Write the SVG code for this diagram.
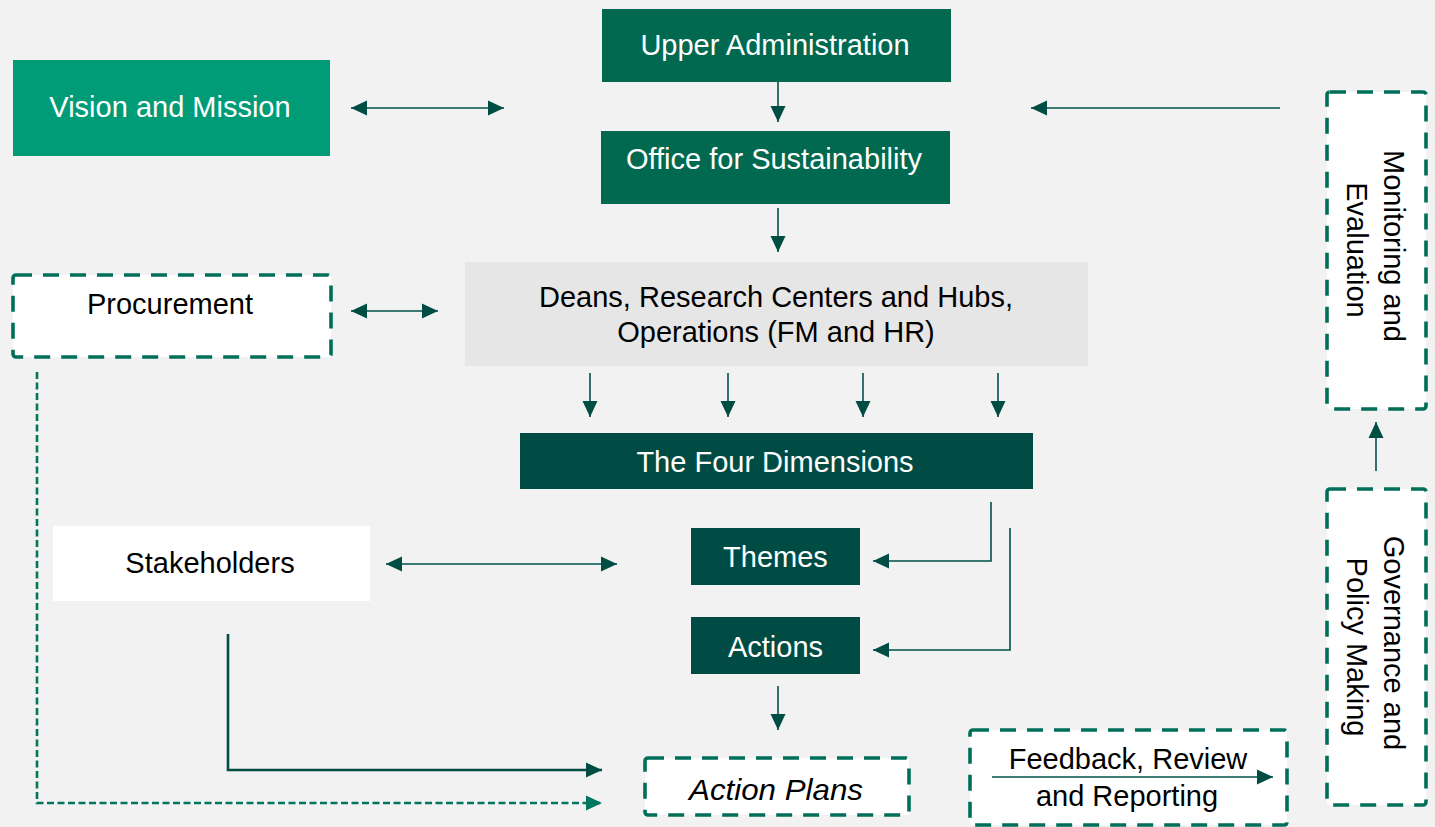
<svg xmlns="http://www.w3.org/2000/svg" width="1435" height="827" viewBox="0 0 1435 827">
  <style>
    .t { font-family: "Liberation Sans", Arial, sans-serif; font-size: 29px; text-anchor: middle; }
    .w { fill: #ffffff; }
    .k { fill: #000000; }
    .solid { fill: none; stroke: #00504a; stroke-width: 1.6; }
    .thick { fill: none; stroke: #004d44; stroke-width: 2.6; }
    .dashed-line { fill: none; stroke: #00765f; stroke-width: 2.6; stroke-dasharray: 7 3.5; }
    .dash-box { fill: #ffffff; stroke: #006f59; stroke-width: 3.6; stroke-dasharray: 16 11; }
    .mid { fill: #00694f; }
    .light { fill: #009c77; }
    .dark { fill: #004c45; }
    .grey { fill: #e6e6e6; }
  </style>
  <defs>
    <marker id="head" viewBox="0 0 16 16" refX="16" refY="8" markerWidth="16" markerHeight="16" markerUnits="userSpaceOnUse" orient="auto-start-reverse">
      <path d="M0,0.5 L16,8 L0,15.5 Z" fill="#004d44"/>
    </marker>
    <marker id="head-dash" viewBox="0 0 16 16" refX="16" refY="8" markerWidth="16" markerHeight="16" markerUnits="userSpaceOnUse" orient="auto">
      <path d="M0,0.5 L16,8 L0,15.5 Z" fill="#00765f"/>
    </marker>
  </defs>

  <rect width="1435" height="827" fill="#f2f2f2"/>

  <g id="upper-administration">
    <rect class="mid" x="602" y="9" width="349" height="73"/>
    <text class="t w" x="775" y="55">Upper Administration</text>
  </g>

  <g id="office-for-sustainability">
    <rect class="mid" x="601" y="131" width="349" height="73"/>
    <text class="t w" x="774" y="169">Office for Sustainability</text>
  </g>

  <g id="vision-and-mission">
    <rect class="light" x="13" y="60" width="317" height="96"/>
    <text class="t w" x="170" y="117">Vision and Mission</text>
  </g>

  <g id="procurement">
    <rect class="dash-box" x="13" y="275" width="318" height="82" rx="3"/>
    <text class="t k" x="170" y="314">Procurement</text>
  </g>

  <g id="deans">
    <rect class="grey" x="465" y="262" width="623" height="104"/>
    <text class="t k" x="776" y="307">Deans, Research Centers and Hubs,</text>
    <text class="t k" x="776" y="342">Operations (FM and HR)</text>
  </g>

  <g id="four-dimensions">
    <rect class="dark" x="520" y="433" width="513" height="56"/>
    <text class="t w" x="775" y="472">The Four Dimensions</text>
  </g>

  <g id="themes">
    <rect class="dark" x="691" y="528" width="169" height="57"/>
    <text class="t w" x="775.5" y="567">Themes</text>
  </g>

  <g id="actions">
    <rect class="dark" x="691" y="617" width="169" height="57"/>
    <text class="t w" x="775.5" y="657">Actions</text>
  </g>

  <g id="stakeholders">
    <rect fill="#ffffff" x="53" y="526" width="317" height="75"/>
    <text class="t k" x="210" y="573">Stakeholders</text>
  </g>

  <g id="action-plans">
    <rect class="dash-box" x="645" y="758" width="264" height="57" rx="3"/>
    <text class="t k" x="776" y="800" font-style="italic" textLength="174" lengthAdjust="spacingAndGlyphs">Action Plans</text>
  </g>

  <g id="feedback-review-reporting">
    <rect class="dash-box" x="970" y="730" width="317" height="95" rx="3"/>
    <text class="t k" x="1128" y="769">Feedback, Review</text>
    <text class="t k" x="1127" y="806">and Reporting</text>
    <line class="solid" x1="992" y1="777" x2="1273" y2="777" marker-end="url(#head)"/>
  </g>

  <g id="monitoring-and-evaluation">
    <rect class="dash-box" x="1327" y="92" width="99" height="317" rx="3"/>
    <text class="t k" transform="translate(1376,250) rotate(90)">
      <tspan x="0" y="-8">Monitoring and</tspan>
      <tspan x="0" y="29">Evaluation</tspan>
    </text>
  </g>

  <g id="governance-and-policy-making">
    <rect class="dash-box" x="1327" y="489" width="99" height="316" rx="3"/>
    <text class="t k" transform="translate(1376,647) rotate(90)">
      <tspan x="0" y="-8">Governance and</tspan>
      <tspan x="0" y="29">Policy Making</tspan>
    </text>
  </g>

  <g id="connectors">
    <!-- hierarchy down the centre -->
    <line class="solid" x1="778" y1="82" x2="778" y2="122" marker-end="url(#head)"/>
    <line class="solid" x1="778" y1="208" x2="778" y2="252" marker-end="url(#head)"/>
    <line class="solid" x1="590" y1="373" x2="590" y2="417" marker-end="url(#head)"/>
    <line class="solid" x1="728" y1="373" x2="728" y2="417" marker-end="url(#head)"/>
    <line class="solid" x1="863" y1="373" x2="863" y2="417" marker-end="url(#head)"/>
    <line class="solid" x1="998" y1="373" x2="998" y2="417" marker-end="url(#head)"/>
    <line class="solid" x1="778" y1="686" x2="778" y2="730" marker-end="url(#head)"/>

    <!-- two-way links -->
    <line class="solid" x1="351" y1="108" x2="504" y2="108" marker-start="url(#head)" marker-end="url(#head)"/>
    <line class="solid" x1="351" y1="311" x2="438" y2="311" marker-start="url(#head)" marker-end="url(#head)"/>
    <line class="solid" x1="386" y1="564" x2="617" y2="564" marker-start="url(#head)" marker-end="url(#head)"/>

    <!-- feedback from monitoring -->
    <line class="solid" x1="1280" y1="108" x2="1031" y2="108" marker-end="url(#head)"/>
    <line class="solid" x1="1376" y1="471" x2="1376" y2="422" marker-end="url(#head)"/>

    <!-- dimensions into themes and actions -->
    <path class="solid" d="M991,502 V561 H873" stroke="#4a7f78" marker-end="url(#head)"/>
    <path class="solid" d="M1010,528 V650 H873" stroke="#4a7f78" marker-end="url(#head)"/>

    <!-- inputs to the action plans -->
    <path class="thick" d="M228,634 V770 H602" marker-end="url(#head)"/>
    <path class="dashed-line" d="M37,372 V803 H602" marker-end="url(#head-dash)"/>
  </g>
</svg>
